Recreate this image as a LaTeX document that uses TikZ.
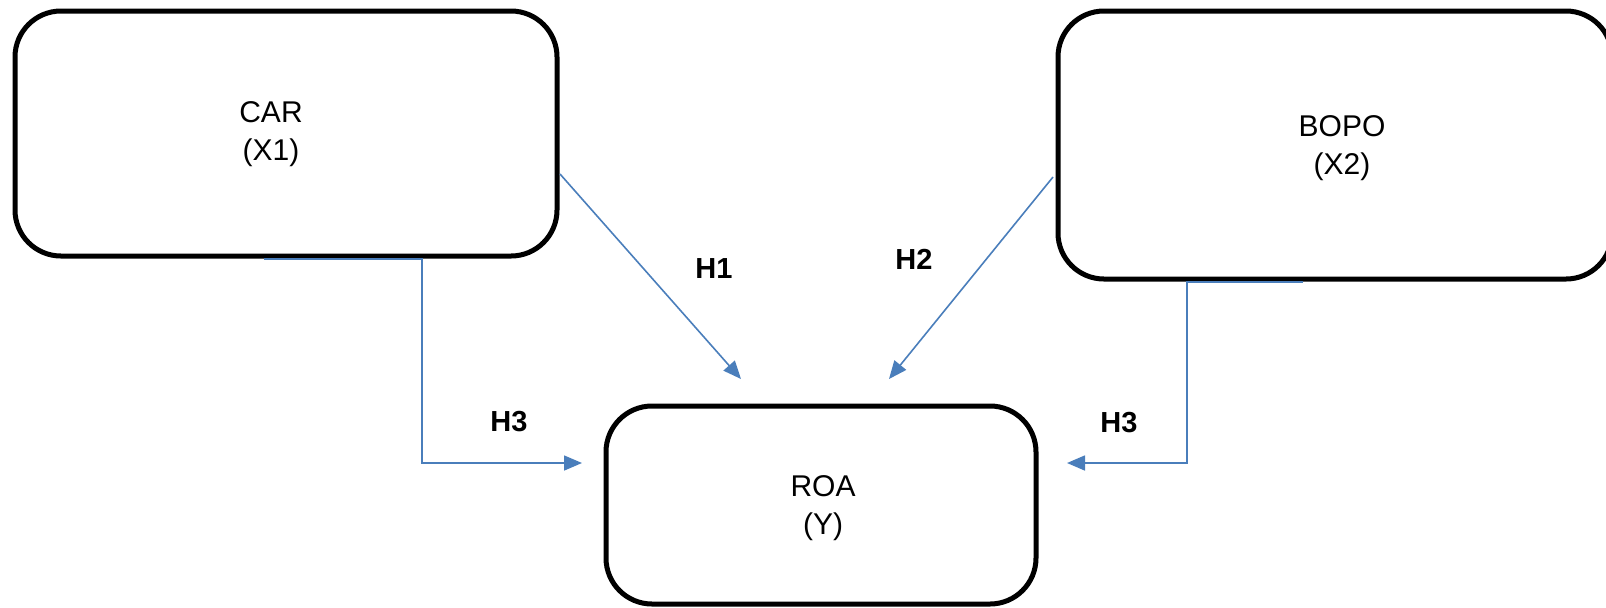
\documentclass[tikz,border=0pt]{standalone}
\usepackage{fontspec}
\setmainfont{Liberation Sans}
\usetikzlibrary{arrows.meta}
\definecolor{linkblue}{HTML}{4A7EBB}
\tikzset{
  box/.style={draw=black, line width=2.5pt, rounded corners=23pt, fill=white},
  boxtext/.style={align=center, font=\fontsize{15}{19}\selectfont, inner sep=0pt},
  hlabel/.style={font=\fontsize{14.5}{16}\selectfont\bfseries, inner sep=0pt},
  link/.style={draw=linkblue, line width=0.8pt, -{Triangle[length=9pt,width=7.5pt]}}
}
\begin{document}
\begin{tikzpicture}[x=0.5pt,y=-0.5pt]
\useasboundingbox (0,0) rectangle (1606,607);
% boxes
\node[box, minimum width=271pt, minimum height=122.5pt] (car) at (286,133.5) {};
\node[box, minimum width=277pt, minimum height=134pt] (bopo) at (1335,145) {};
\node[box, minimum width=215pt, minimum height=99pt] (roa) at (821,505) {};
% texts
\node[boxtext] (cart) at (271,134) {CAR\\(X1)};
\node[boxtext] (bopot) at (1342,148) {BOPO\\(X2)};
\node[boxtext] (roat) at (823,508) {ROA\\(Y)};
% connector ends
\coordinate (h1s) at (560,174);
\coordinate (h1e) at (741,379);
\coordinate (h2s) at (1053,177);
\coordinate (h2e) at (889,379);
\coordinate (l3s) at (264,259);
\coordinate (l3c) at (422,259);
\coordinate (l3d) at (422,463);
\coordinate (l3e) at (582,463);
\coordinate (r3s) at (1303,282);
\coordinate (r3c) at (1187,282);
\coordinate (r3d) at (1187,463);
\coordinate (r3e) at (1067,463);
% connectors
\draw[link] (h1s) -- (h1e);
\draw[link] (h2s) -- (h2e);
\draw[link] (l3s) -- (l3c) -- (l3d) -- (l3e);
\draw[link] (r3s) -- (r3c) -- (r3d) -- (r3e);
% labels
\node[hlabel] (h1) at (714,269) {H1};
\node[hlabel] (h2) at (914,259) {H2};
\node[hlabel] (h3l) at (509,422) {H3};
\node[hlabel] (h3r) at (1119,423) {H3};
\end{tikzpicture}
\end{document}
